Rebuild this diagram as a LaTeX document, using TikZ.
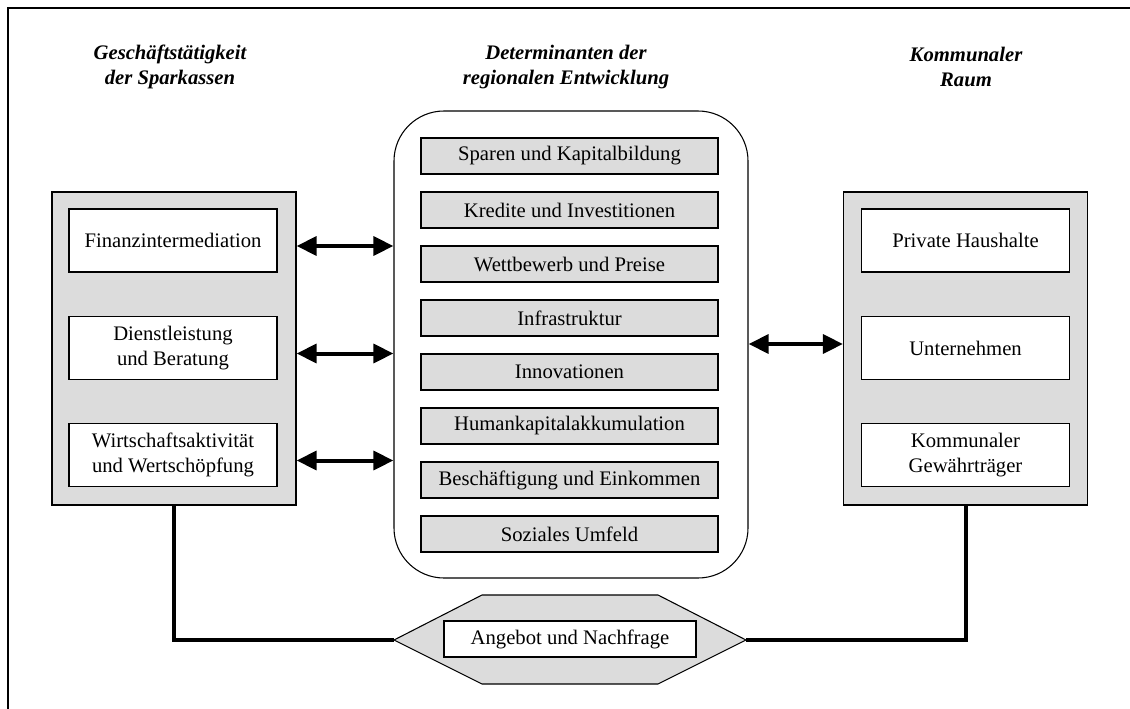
\documentclass[tikz,border=0pt]{standalone}
\usepackage{fontspec}
\setmainfont{Liberation Serif}
\usetikzlibrary{arrows.meta,calc}
\definecolor{boxgrey}{RGB}{220,220,220}

\begin{document}
\begin{tikzpicture}[x=0.75pt,y=-0.75pt,
    every node/.style={font=\fontsize{15.5}{18.6}\selectfont},
    outerbox/.style={draw, fill=boxgrey, line width=0.8pt, minimum width=183pt, minimum height=234.75pt, inner sep=0pt},
    whitebox/.style={draw, fill=white, line width=0.8pt, minimum width=156pt, minimum height=47.25pt, align=center, inner sep=0pt},
    detbox/.style={draw, fill=boxgrey, line width=0.8pt, minimum width=222.75pt, minimum height=27pt, inner sep=0pt},
    heading/.style={align=center, font=\fontsize{15.5}{18.6}\selectfont\bfseries\itshape},
    twoway/.style={{Triangle[length=15pt,width=14pt]}-{Triangle[length=15pt,width=14pt]}, line width=3pt},
    link/.style={line width=3pt}]

  \useasboundingbox (0,0) rectangle (1130,709);
  \draw[line width=1.1pt] (8,720) -- (8,8) -- (1140,8);

  \node[heading] (hleft) at (170,67) {Geschäftstätigkeit\\der Sparkassen};
  \node[heading] (hmid) at (566,67) {Determinanten der\\regionalen Entwicklung};
  \node[heading] (hright) at (966,67) {Kommunaler\\Raum};

  % Sparkassen
  \node[outerbox] (lbox) at (174,348.5) {};
  \node[whitebox] (fin) at (173,240.5) {Finanzintermediation};
  \node[whitebox] (dienst) at (173,348) {Dienstleistung\\und Beratung};
  \node[whitebox] (wirt) at (173,455) {Wirtschaftsaktivität\\und Wertschöpfung};

  % Determinanten
  \node[draw, line width=0.8pt, rounded corners=37.5pt, minimum width=265.5pt, minimum height=350.25pt] (det) at (571,344.5) {};
  \foreach \txt [count=\i] in {Sparen und Kapitalbildung, Kredite und Investitionen,
      Wettbewerb und Preise, Infrastruktur, Innovationen, Humankapitalakkumulation,
      Beschäftigung und Einkommen, Soziales Umfeld}
    \node[detbox] (det\i) at (569.5,102+54*\i) {\txt};

  % kommunaler Raum
  \node[outerbox] (rbox) at (965.5,348.5) {};
  \node[whitebox] (priv) at (965.5,240.5) {Private Haushalte};
  \node[whitebox] (unt) at (965.5,348) {Unternehmen};
  \node[whitebox] (komm) at (965.5,455) {Kommunaler\\Gewährträger};

  \foreach \n in {fin,dienst,wirt}
    \draw[twoway] ($(\n.east -| lbox.east)+(0,5.5)$) -- ($(\n.east -| det.west)+(0,5.5)$);
  \draw[twoway] ($(unt.west -| det.east)+(0,-4)$) -- ($(unt.west -| rbox.west)+(0,-4)$);

  % Markt
  \draw[fill=boxgrey, line width=0.8pt] (394,640) coordinate (hexL) -- (482,595) -- (658,595)
    -- (746,640) coordinate (hexR) -- (658,684) -- (482,684) -- cycle;
  \node[whitebox, minimum width=189pt, minimum height=27pt] (markt) at (570,639) {Angebot und Nachfrage};

  \draw[link] (lbox.south) |- (hexL);
  \draw[link] (rbox.south) |- (hexR);
\end{tikzpicture}
\end{document}
